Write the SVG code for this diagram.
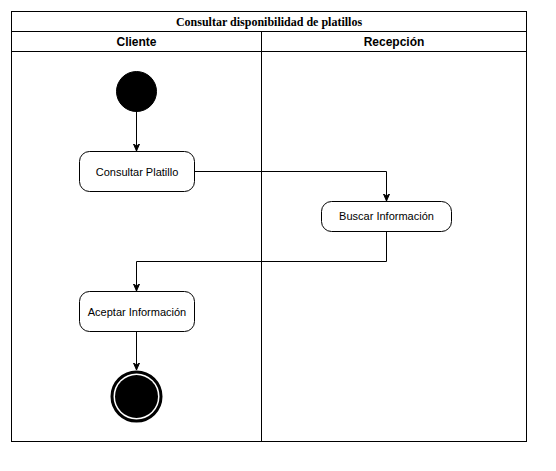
<svg xmlns="http://www.w3.org/2000/svg" width="556" height="471" viewBox="0 0 556 471">
<style>
.ln{fill:none;stroke:#000;stroke-width:1}
.node{fill:#fff;stroke:#000;stroke-width:1}
.t{font-family:"Liberation Sans",Arial,sans-serif;font-size:11px;fill:#000;text-anchor:middle}
.h{font-family:"Liberation Sans",Arial,sans-serif;font-size:12px;font-weight:bold;fill:#000;text-anchor:middle}
.ti{font-family:"Liberation Serif","Times New Roman",serif;font-size:12px;font-weight:bold;fill:#000;text-anchor:middle}
</style>
<defs>
<marker id="arr" markerWidth="8" markerHeight="8" refX="7" refY="4" orient="auto" markerUnits="userSpaceOnUse">
<path d="M0,1 L7,4 L0,7 L2,4 Z" fill="#000" stroke="#000" stroke-width="1"/>
</marker>
</defs>
<rect width="556" height="471" fill="#fff"/>
<g id="pool">
<rect class="ln" x="11.5" y="11.5" width="515" height="430"/>
<line class="ln" x1="11.5" y1="31.5" x2="526.5" y2="31.5"/>
<line class="ln" x1="11.5" y1="51.5" x2="526.5" y2="51.5"/>
<line class="ln" x1="261.5" y1="31.5" x2="261.5" y2="441.5"/>
<text class="ti" x="269" y="26">Consultar disponibilidad de platillos</text>
<text class="h" x="136.5" y="46">Cliente</text>
<text class="h" x="394" y="46">Recepción</text>
</g>
<g id="connectors">
<path class="ln" d="M136.5,111 L136.5,151" marker-end="url(#arr)"/>
<path class="ln" d="M194,171.5 L386.5,171.5 L386.5,201" marker-end="url(#arr)"/>
<path class="ln" d="M386.5,231 L386.5,261.5 L136.5,261.5 L136.5,291" marker-end="url(#arr)"/>
<path class="ln" d="M136.5,331 L136.5,370" marker-end="url(#arr)"/>
</g>
<g id="start">
<circle cx="136.5" cy="91.5" r="20" fill="#000" stroke="#000"/>
</g>
<g id="consultar">
<rect class="node" x="79.5" y="151.5" width="115" height="40" rx="10"/>
<text class="t" x="137" y="175.5">Consultar Platillo</text>
</g>
<g id="buscar">
<rect class="node" x="321.5" y="201.5" width="130" height="30" rx="10"/>
<text class="t" x="386.5" y="220">Buscar Información</text>
</g>
<g id="aceptar">
<rect class="node" x="79.5" y="291.5" width="115" height="40" rx="10"/>
<text class="t" x="137" y="315.5">Aceptar Información</text>
</g>
<g id="end">
<circle cx="136.5" cy="396.5" r="24.5" fill="#fff" stroke="#000" stroke-width="3"/>
<circle cx="136.5" cy="396.5" r="21.5" fill="#000"/>
</g>
</svg>
